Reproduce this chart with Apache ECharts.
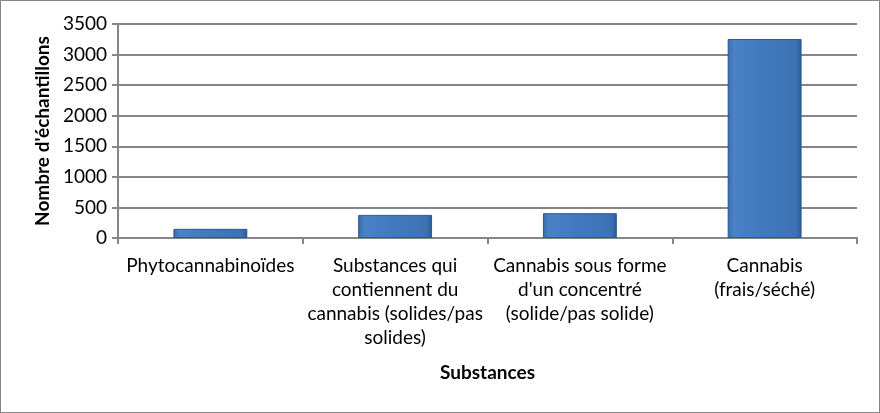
<!DOCTYPE html>
<html><head><meta charset="utf-8">
<script src="https://cdn.jsdelivr.net/npm/echarts@6/dist/echarts.min.js"></script>
<style>html,body{margin:0;padding:0;background:#fff}#c{width:880px;height:413px;box-sizing:border-box;border:1px solid #868686}</style>
</head><body><div id="c"></div>
<script>
const categories = ["Phytocannabinoïdes", "Substances qui\ncontiennent du\ncannabis (solides/pas\nsolides)", "Cannabis sous forme\nd'un concentré\n(solide/pas solide)", "Cannabis\n(frais/séché)"];
const values = [150, 378, 406, 3255];
const yTicks = [0, 500, 1000, 1500, 2000, 2500, 3000, 3500];
const xTitle = "Substances";
const yTitle = "Nombre d'échantillons";

const chart = echarts.init(document.getElementById('c'), null, {renderer:'canvas'});
const font = 'Lato, "Open Sans", sans-serif';
chart.setOption({
  animation:false,
  grid:{left:117, right:22, top:23, bottom:174, containLabel:false},
  xAxis:{type:'category', data:categories, name:xTitle, nameLocation:'middle', nameGap:125,
    nameTextStyle:{fontFamily:font, fontSize:19, fontWeight:'bold', color:'#000'},
    axisLine:{lineStyle:{color:'#868686', width:2}}, axisTick:{show:true, length:6, lineStyle:{color:'#868686', width:2}},
    axisLabel:{fontFamily:font, fontSize:19, color:'#000', lineHeight:24, margin:16, interval:0}},
  yAxis:{type:'value', min:yTicks[0], max:yTicks[yTicks.length-1], interval:500, name:yTitle, nameLocation:'middle', nameGap:66,
    nameTextStyle:{fontFamily:font, fontSize:19, fontWeight:'bold', color:'#000'},
    axisLine:{show:true, lineStyle:{color:'#868686', width:2}}, axisTick:{show:true, length:6, lineStyle:{color:'#868686', width:2}},
    axisLabel:{fontFamily:font, fontSize:19, color:'#000', margin:11, formatter:v=>String(v)},
    splitLine:{lineStyle:{color:'#868686', width:2}}},
  series:[{type:'bar', data:values, barWidth:'40%',
    itemStyle:{borderColor:'#2a5a8f', borderWidth:1,
      color:new echarts.graphic.LinearGradient(0,0,1,0,[
        {offset:0,color:'#3a6aa6'},{offset:0.08,color:'#4a82c6'},{offset:0.5,color:'#4079be'},{offset:0.92,color:'#3d73b4'},{offset:1,color:'#2c5a94'}])}}]
});
</script></body></html>
